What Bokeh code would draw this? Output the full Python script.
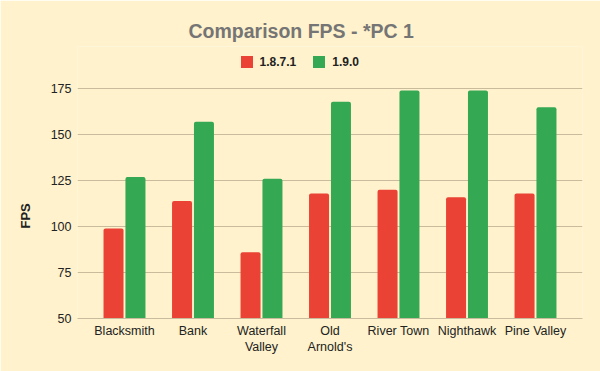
from bokeh.plotting import figure
from bokeh.models import FactorRange, Range1d, FixedTicker, Legend, LegendItem, ColumnDataSource, Title
from bokeh.transform import dodge
from bokeh.embed import file_html
from bokeh.resources import INLINE

categories = ["Blacksmith", "Bank", "Waterfall\nValley", "Old\nArnold's", "River Town", "Nighthawk", "Pine Valley"]
series_names = ["1.8.7.1", "1.9.0"]
fps_1871 = [99, 114, 86, 118, 120, 116, 118]
fps_190 = [127, 157, 126, 168, 174, 174, 165]
y_ticks = [50, 75, 100, 125, 150, 175]

FONT = "Liberation Sans"
BG = "#fff2cc"
GRID = "#c9bc9c"
RED = "#ea4335"
GREEN = "#34a853"

src = ColumnDataSource(data=dict(cat=categories, a=fps_1871, b=fps_190))

# the frame reaches above the 175 line so that the legend can sit inside it
p = figure(
    width=600, height=371,
    x_range=FactorRange(factors=categories, range_padding=0.186, range_padding_units="absolute"),
    y_range=Range1d(50, 198),
    output_backend="svg", toolbar_location=None,
    min_border_left=77, min_border_right=18, min_border_top=46, min_border_bottom=53,
    background_fill_color=BG, border_fill_color=BG, outline_line_color=None,
)

r1 = p.vbar(x=dodge("cat", -0.16, range=p.x_range), top="a", bottom=50, width=0.292, source=src,
            fill_color=RED, line_color=None, border_radius=(2, 2, 0, 0))
r2 = p.vbar(x=dodge("cat", 0.16, range=p.x_range), top="b", bottom=50, width=0.292, source=src,
            fill_color=GREEN, line_color=None, border_radius=(2, 2, 0, 0))

# grid
p.xgrid.grid_line_color = None
p.ygrid.grid_line_color = GRID
p.ygrid.grid_line_width = 1
p.ygrid.ticker = FixedTicker(ticks=y_ticks)

# y axis
p.yaxis.ticker = FixedTicker(ticks=y_ticks)
p.yaxis.axis_line_color = None
p.yaxis.major_tick_line_color = None
p.yaxis.minor_tick_line_color = None
p.yaxis.major_tick_out = 0
p.yaxis.major_tick_in = 0
p.yaxis.major_label_standoff = 6
p.yaxis.major_label_text_font = FONT
p.yaxis.major_label_text_font_size = "12.5px"
p.yaxis.major_label_text_color = "#222222"

# y axis title, placed along the left side like the reference
y_title = Title(text="FPS", align="left", offset=90, standoff=30,
                text_font=FONT, text_font_size="13px", text_font_style="bold",
                text_color="#222222")
p.add_layout(y_title, "left")

# x axis
p.xaxis.axis_line_color = GRID
p.xaxis.major_tick_line_color = None
p.xaxis.major_tick_out = 0
p.xaxis.major_tick_in = 0
p.xaxis.major_label_standoff = 5
p.xaxis.major_label_text_font = FONT
p.xaxis.major_label_text_font_size = "12.5px"
p.xaxis.major_label_text_color = "#222222"

legend = Legend(
    items=[LegendItem(label=series_names[0], renderers=[r1]),
           LegendItem(label=series_names[1], renderers=[r2])],
    orientation="horizontal", location=(161.5, 248.8),
    glyph_width=15, glyph_height=15, label_height=15, label_standoff=6, spacing=15,
    padding=0, margin=0, border_line_alpha=0, background_fill_alpha=0,
    label_text_font=FONT, label_text_font_size="12px", label_text_font_style="bold",
    label_text_color="#222222",
)
p.add_layout(legend, "center")

# title
p.title.text = "Comparison FPS - *PC 1"
p.title.align = "left"
p.title.offset = 111
p.title.standoff = 9
p.title.text_font = FONT
p.title.text_font_size = "19.5px"
p.title.text_font_style = "bold"
p.title.text_color = "#757575"

open("out.html", "w").write(file_html(p, INLINE))
